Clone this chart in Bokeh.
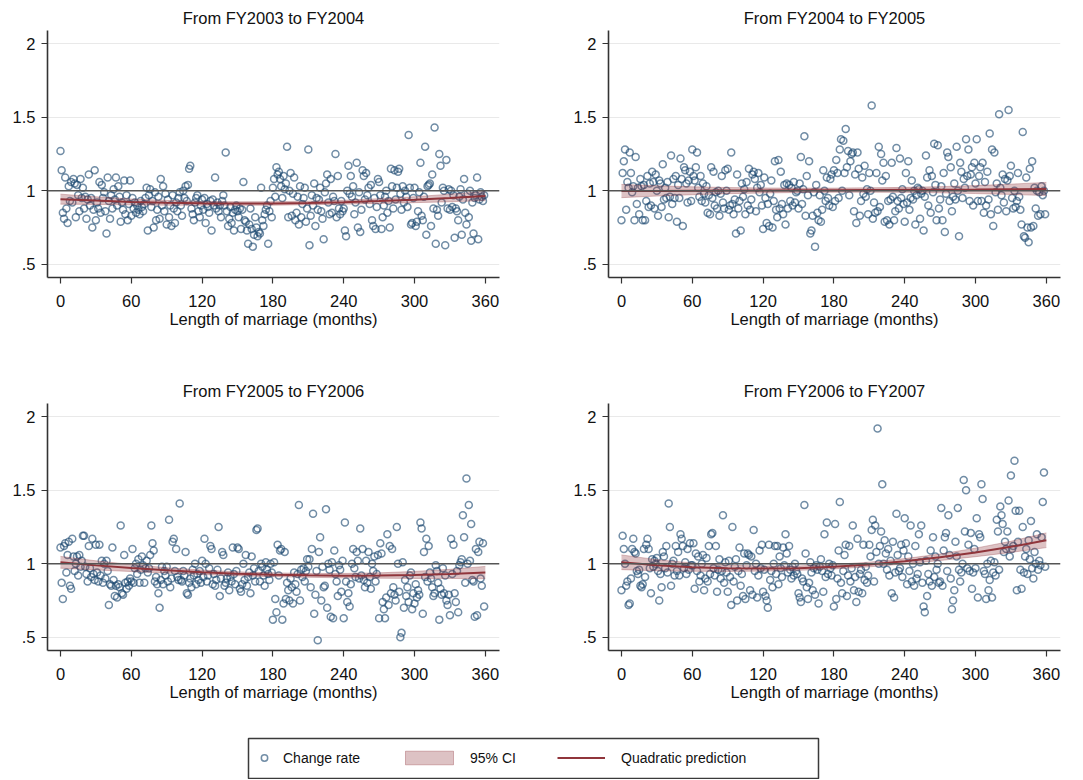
from bokeh.plotting import figure
from bokeh.layouts import row, column
from bokeh.models import Range1d, FixedTicker, Span, Legend, LegendItem, Spacer
from bokeh.embed import file_html
from bokeh.resources import INLINE

# ---------------- data ----------------
months = list(range(0, 360))

rate_fy03_04 = [
    1.27,1.14,0.85,0.81,1.09,0.88,0.78,1.03,0.93,1.06,0.92,1.08,1.05,0.82,1.04,0.97,0.86,1.08,0.95,1.02,0.88,0.96,0.81,0.94,1.11,0.90,0.95,0.75,0.87,1.14,
    0.80,0.92,0.88,1.06,0.85,1.04,0.95,0.99,0.86,0.71,1.09,0.93,0.81,0.97,0.88,1.01,0.94,1.09,0.90,1.03,0.96,0.79,0.92,0.87,1.07,0.84,0.97,0.80,0.91,1.07,
    0.83,0.95,0.88,0.92,0.85,0.90,0.87,0.84,0.93,0.89,0.86,0.91,0.95,1.02,0.73,0.97,1.01,0.89,0.93,0.75,0.99,0.80,0.87,0.96,0.81,1.08,0.90,1.03,0.86,0.98,
    0.77,0.94,0.82,0.90,0.76,0.97,0.88,0.78,0.92,0.86,0.95,0.99,0.90,0.83,1.00,0.95,1.03,0.93,1.04,1.15,1.17,0.88,0.84,0.80,0.92,0.95,0.97,0.86,0.82,0.90,
    0.94,0.87,0.95,0.78,0.91,0.89,0.85,0.93,0.73,0.94,0.90,1.09,0.88,0.92,0.86,0.90,0.82,0.93,0.97,0.90,1.26,0.86,0.76,0.81,0.89,0.78,0.85,0.73,0.87,0.90,
    0.86,0.82,0.88,0.74,0.87,1.06,0.80,0.79,0.73,0.64,0.77,0.88,0.74,0.62,0.70,0.82,0.75,0.69,0.72,0.71,1.02,0.80,0.76,0.84,0.87,0.90,0.64,0.86,0.93,0.82,
    1.02,1.08,0.96,1.16,1.11,1.13,1.08,1.03,0.95,1.10,1.01,1.05,1.30,0.82,1.00,1.12,0.83,0.98,1.09,0.80,0.85,0.96,0.77,1.03,0.82,0.91,0.95,1.02,0.79,0.88,
    1.28,0.63,0.83,0.97,0.90,1.05,0.76,0.95,0.87,0.94,1.02,0.86,0.81,0.67,0.99,1.05,1.11,0.92,0.84,1.08,0.85,0.96,0.93,1.25,0.82,1.10,0.88,0.84,0.93,0.86,
    0.88,0.73,0.69,1.00,1.17,0.98,1.10,0.96,1.03,0.84,0.92,1.19,0.75,0.99,0.72,0.87,1.14,1.10,0.94,1.12,0.97,1.02,0.91,1.04,0.80,0.76,0.95,0.74,0.89,1.08,
    1.06,0.97,0.74,0.82,0.90,0.96,1.00,0.85,0.93,0.75,1.15,1.03,0.88,1.14,0.94,1.02,1.13,1.15,0.98,0.87,1.03,0.92,1.00,0.96,0.89,1.38,1.02,0.77,0.78,0.95,
    1.02,0.76,0.79,0.86,0.99,1.19,0.83,0.80,0.96,1.30,0.70,1.03,1.04,1.05,0.76,1.11,0.88,1.43,0.64,0.87,0.83,1.25,1.17,0.92,1.02,1.00,0.63,1.21,0.88,1.01,
    0.87,1.00,0.89,0.97,0.68,0.88,0.86,0.80,0.96,1.01,0.70,0.94,1.08,0.85,0.77,0.98,0.82,1.00,0.66,0.92,0.71,0.95,0.97,1.09,0.67,0.94,0.99,0.96,0.93,0.97,
]

rate_fy04_05 = [
    0.80,1.12,1.20,1.28,0.87,1.06,1.02,1.26,1.12,0.99,1.03,0.80,1.23,0.91,1.02,0.84,1.08,1.03,0.80,1.04,0.80,0.93,1.10,0.89,1.05,0.90,1.13,1.06,0.88,1.11,
    1.00,0.83,1.07,1.05,0.89,1.18,0.94,1.02,0.95,1.06,0.82,0.96,1.24,0.91,1.08,0.95,1.10,0.79,1.04,0.95,1.22,1.08,0.76,1.16,1.14,1.05,0.92,1.07,1.13,0.93,
    1.28,1.10,1.07,1.16,1.26,1.02,0.96,1.10,0.93,1.05,0.98,0.92,1.03,0.85,0.97,0.84,1.16,0.95,1.13,0.90,0.99,0.88,1.00,0.83,0.98,1.10,0.92,0.88,1.14,1.00,
    1.15,0.87,0.90,1.26,0.91,0.84,0.94,0.71,1.11,0.88,0.93,0.73,1.05,0.96,1.01,0.84,1.06,0.90,1.15,0.87,0.94,1.11,1.13,1.08,0.86,1.02,1.12,0.99,1.04,0.90,
    0.74,1.09,0.95,0.78,0.91,0.76,0.98,1.07,0.75,0.93,1.20,0.87,0.82,1.21,0.88,1.13,0.91,0.84,1.04,0.77,1.05,0.88,1.04,0.93,1.02,0.90,1.06,0.92,0.99,1.00,
    0.88,1.05,1.23,0.91,1.01,1.37,0.83,1.10,0.97,1.20,0.71,0.73,0.83,0.99,0.62,1.04,0.85,0.80,0.97,0.79,0.87,1.14,1.00,0.93,1.09,0.95,0.90,1.08,1.11,0.89,
    1.14,0.93,1.21,1.12,0.95,1.28,1.35,1.00,1.34,1.12,1.42,1.16,1.27,0.97,1.20,1.25,1.26,0.86,1.11,0.78,1.26,1.15,0.83,0.93,1.09,0.98,1.17,0.96,1.01,0.84,
    1.12,1.00,1.58,0.81,0.92,0.85,1.12,0.86,1.30,0.89,1.25,1.07,1.19,0.79,1.10,0.80,0.93,0.77,0.94,1.19,0.96,0.80,0.86,1.29,0.93,0.88,1.22,0.95,1.01,0.91,
    0.79,1.12,0.92,1.20,0.87,0.95,1.07,0.94,1.00,0.77,0.97,1.02,1.01,0.81,0.98,1.00,0.73,0.96,1.24,1.09,0.90,1.14,0.85,1.10,0.99,1.32,1.04,0.80,1.31,0.88,
    0.94,1.03,0.80,1.12,0.72,0.98,1.26,1.23,0.93,1.16,0.86,0.96,1.05,0.94,1.30,1.00,0.69,1.19,1.13,0.95,1.08,1.02,1.35,1.10,1.28,0.93,1.11,1.16,0.90,1.19,
    1.05,1.35,0.93,1.10,1.16,0.93,1.19,0.85,1.06,0.90,1.13,0.94,1.39,0.84,1.28,0.76,1.26,0.99,1.05,0.87,1.52,1.02,0.97,1.11,0.92,1.08,0.86,1.07,1.55,1.10,
    1.17,0.95,0.88,1.00,0.89,0.93,1.12,0.96,0.87,0.77,1.40,0.69,0.68,1.09,0.75,0.65,1.15,0.75,1.20,0.76,1.02,0.88,1.00,0.83,0.99,0.84,1.03,0.97,1.00,0.84,
]

rate_fy05_06 = [
    1.11,0.87,0.76,1.12,1.14,0.94,1.06,1.15,0.85,0.83,1.17,1.05,0.95,1.00,1.05,0.92,1.06,0.98,1.02,1.19,1.19,0.98,0.93,0.88,1.12,0.97,0.91,1.17,0.93,0.89,
    1.13,0.94,0.88,1.13,0.92,1.02,0.87,1.00,0.90,1.02,0.95,0.72,0.86,0.85,1.11,0.89,0.78,0.85,0.77,0.86,0.84,1.26,0.80,0.79,1.06,0.87,0.83,0.88,0.85,0.90,
    0.88,1.10,0.87,0.97,1.00,0.93,1.03,0.87,0.96,1.05,0.99,0.87,0.97,1.02,0.94,0.97,1.06,1.26,1.14,1.09,0.88,0.91,0.86,0.80,0.70,0.89,0.98,0.86,0.95,0.92,
    0.98,0.88,1.30,0.84,0.90,1.15,1.17,0.95,1.10,0.91,0.89,1.41,0.89,0.88,0.95,0.92,1.08,0.80,0.79,0.87,0.90,0.84,0.96,0.92,1.00,0.86,0.93,0.89,0.95,0.87,
    1.02,0.91,1.17,1.00,0.88,0.92,0.97,1.12,1.10,0.86,0.93,0.85,0.89,0.96,1.25,0.78,0.90,1.08,1.06,0.85,0.87,0.90,0.94,0.82,0.91,0.88,1.11,0.93,0.86,0.95,
    1.11,1.10,0.83,0.81,0.86,1.00,0.89,1.06,0.85,0.91,0.94,0.80,1.05,0.92,0.97,0.88,1.23,1.24,0.95,0.88,1.00,0.98,0.92,0.85,1.01,0.96,0.93,0.89,1.00,0.94,
    0.62,1.01,0.76,0.67,1.13,0.92,1.09,1.10,0.62,0.73,1.08,0.76,0.87,0.82,0.75,0.90,0.84,0.73,0.94,0.86,0.81,0.93,1.40,0.75,0.96,0.91,0.97,0.88,0.95,1.03,
    0.98,1.03,0.84,1.10,1.34,0.66,0.79,0.95,0.48,1.08,1.18,0.75,0.98,0.84,0.85,1.37,0.70,1.00,0.96,0.64,1.01,0.63,1.09,0.93,0.88,0.78,0.99,0.96,0.81,1.02,
    0.63,1.28,0.88,0.74,0.80,0.71,0.86,1.00,1.10,0.97,0.91,1.08,1.02,0.90,1.24,0.92,1.10,0.89,0.84,1.02,0.87,1.08,0.91,0.83,1.00,0.95,1.05,0.88,0.93,1.06,
    0.63,1.14,1.07,0.74,0.69,0.63,0.77,1.20,0.72,1.12,0.80,1.10,0.84,0.79,0.75,1.25,1.00,0.81,0.50,0.53,1.01,0.70,0.89,0.78,0.84,0.74,0.92,0.94,0.69,0.80,
    0.73,0.86,0.77,0.82,0.79,1.28,1.24,0.66,1.08,0.91,1.17,0.88,1.12,0.94,0.90,0.84,0.78,0.80,0.99,0.95,0.87,0.62,0.83,0.79,0.97,0.80,0.92,0.75,0.72,0.79,
    0.65,1.17,0.93,1.13,0.80,0.74,0.95,0.67,0.99,1.01,1.03,1.33,1.18,0.87,1.58,1.00,1.40,1.02,1.27,0.89,0.88,0.64,1.10,0.65,1.08,1.15,0.90,0.85,1.14,0.71,
]

rate_fy06_07 = [
    0.82,1.19,1.10,1.00,0.85,0.88,0.72,0.73,0.90,1.10,1.17,1.08,1.07,0.95,0.93,0.96,0.85,0.84,0.86,1.10,0.91,1.13,1.17,1.10,0.97,0.80,1.03,0.98,1.02,1.00,
    1.04,0.95,0.75,0.93,0.84,1.08,1.05,0.97,1.12,0.94,1.41,1.25,0.85,1.00,1.02,0.92,1.12,0.95,1.08,0.92,1.20,1.17,1.12,0.97,1.01,0.93,1.10,0.96,1.14,0.99,
    0.99,1.14,0.83,1.07,0.95,1.05,0.88,0.92,1.00,1.06,0.82,0.90,1.04,0.88,1.12,0.93,1.20,1.21,0.97,0.92,1.12,0.81,0.96,1.03,0.90,0.95,1.33,0.87,1.01,0.94,
    0.81,1.02,0.91,0.72,1.25,0.88,0.98,1.03,0.75,0.95,1.11,0.85,0.93,0.78,1.07,0.76,0.99,1.07,1.06,0.82,1.05,0.79,1.23,0.95,1.00,0.77,0.92,1.09,0.97,1.13,
    0.81,0.96,0.78,0.75,0.70,1.13,0.89,0.95,0.84,1.00,1.12,0.93,1.12,0.86,1.05,0.97,0.91,1.11,0.99,1.20,1.07,0.94,1.12,0.96,0.90,0.98,0.92,1.00,0.95,0.93,
    0.80,0.77,0.74,0.90,0.88,1.40,1.07,0.84,0.76,0.87,1.01,0.94,0.82,0.97,0.79,0.99,0.96,0.73,0.98,1.03,0.95,0.81,1.20,0.91,1.28,0.93,1.00,0.97,0.92,0.99,
    0.71,1.27,0.76,0.90,1.09,1.42,0.87,0.80,0.95,1.06,1.13,0.78,0.92,1.12,0.88,0.97,1.26,0.82,0.91,0.74,1.17,0.81,0.93,0.96,0.80,1.13,0.89,0.98,0.87,0.92,
    1.13,1.05,1.23,1.30,0.88,1.26,1.08,1.92,1.00,1.12,1.22,1.54,1.00,1.16,1.07,0.96,1.10,0.92,1.02,0.80,1.15,0.77,0.94,1.34,1.06,0.95,0.97,1.13,0.91,1.09,
    1.31,1.14,0.86,1.05,0.95,1.26,0.88,1.00,0.85,1.12,0.90,0.93,1.20,1.01,1.26,0.87,0.71,0.67,1.02,0.78,0.93,0.88,1.09,0.85,1.18,0.91,1.05,0.96,1.00,0.87,
    0.88,1.38,0.85,1.09,1.18,1.21,0.95,1.33,1.06,0.90,0.69,0.75,0.82,1.15,1.05,1.38,0.96,0.88,0.94,1.00,1.57,1.22,1.50,0.97,1.13,0.95,1.21,0.83,0.94,1.10,
    0.97,1.31,0.77,1.20,1.18,1.54,1.44,0.95,0.93,0.76,1.00,0.82,0.89,1.02,0.77,0.94,1.01,0.92,1.30,1.22,0.96,1.39,1.33,1.27,1.08,1.15,1.10,1.22,1.43,1.05,
    1.60,1.10,1.12,1.70,1.36,0.82,1.15,1.36,0.96,0.83,1.25,0.94,1.05,1.10,0.93,1.16,1.03,1.29,0.97,0.90,1.08,1.00,1.20,0.96,1.02,0.99,1.18,1.42,1.62,0.98,
]

fit_months = [0, 30, 60, 90, 120, 150, 180, 210, 240, 270, 300, 330, 360]
fit_fy03_04 = [0.943,0.933,0.924,0.918,0.915,0.913,0.914,0.917,0.922,0.930,0.939,0.951,0.965]
half_fy03_04 = [0.034,0.026,0.020,0.016,0.013,0.012,0.012,0.012,0.013,0.016,0.020,0.026,0.032]
fit_fy04_05 = [0.998,0.999,1.000,1.001,1.002,1.003,1.004,1.005,1.006,1.007,1.008,1.010,1.012]
half_fy04_05 = [0.045,0.035,0.027,0.021,0.017,0.015,0.014,0.015,0.017,0.021,0.027,0.035,0.045]
fit_fy05_06 = [1.010,0.989,0.971,0.955,0.942,0.932,0.925,0.921,0.919,0.920,0.924,0.931,0.940]
half_fy05_06 = [0.040,0.031,0.024,0.018,0.015,0.013,0.013,0.013,0.015,0.018,0.024,0.031,0.042]
fit_fy06_07 = [1.010,0.990,0.977,0.969,0.967,0.970,0.980,0.995,1.017,1.044,1.077,1.115,1.160]
half_fy06_07 = [0.050,0.038,0.028,0.021,0.017,0.015,0.015,0.016,0.018,0.022,0.029,0.038,0.050]

x_ticks = [0, 60, 120, 180, 240, 300, 360]
y_ticks = [0.5, 1, 1.5, 2]
y_tick_labels = {0.5: ".5", 1: "1", 1.5: "1.5", 2: "2"}

# ---------------- styling ----------------
FONT = "Liberation Sans"
NAVY = "#1a476f"
MAROON = "#90353b"
AXIS = "#333333"


def panel(title, rates, fit, half, width, height, bl, br, bt, bb):
    p = figure(width=width, height=height,
               x_range=Range1d(-11, 372), y_range=Range1d(0.41, 2.09),
               output_backend="svg", toolbar_location=None,
               min_border_left=bl, min_border_right=br,
               min_border_top=bt, min_border_bottom=bb,
               outline_line_color=None, background_fill_color="white",
               border_fill_color="white")
    p.title.text = title
    p.title.align = "center"
    p.title.text_font = FONT
    p.title.text_font_size = "16.5px"
    p.title.text_font_style = "normal"
    p.title.text_color = "#111111"
    p.title.standoff = 8

    p.xgrid.visible = False
    p.ygrid.grid_line_color = "#e9e9e9"
    p.ygrid.grid_line_width = 1.2

    p.xaxis.ticker = FixedTicker(ticks=x_ticks)
    p.yaxis.ticker = FixedTicker(ticks=y_ticks)
    p.yaxis.major_label_overrides = y_tick_labels
    p.xaxis.axis_label = "Length of marriage (months)"
    for ax in (p.xaxis, p.yaxis):
        ax.axis_line_color = AXIS
        ax.axis_line_width = 1.6
        ax.major_tick_line_color = AXIS
        ax.major_tick_line_width = 1.2
        ax.major_tick_out = 6
        ax.major_tick_in = 0
        ax.minor_tick_line_color = None
        ax.major_label_text_font = FONT
        ax.major_label_text_font_size = "16.5px"
        ax.major_label_text_color = "#111111"
        ax.axis_label_text_font = FONT
        ax.axis_label_text_font_size = "16.5px"
        ax.axis_label_text_font_style = "normal"
        ax.axis_label_text_color = "#111111"
    p.xaxis.major_label_standoff = 11
    p.xaxis.axis_label_standoff = 0
    p.yaxis.major_label_standoff = 6

    p.add_layout(Span(location=1, dimension="width", line_color="#555555", line_width=1.6))

    p.scatter(months, rates, marker="circle", size=7, fill_color=None,
              line_color=NAVY, line_alpha=0.62, line_width=1.5)
    lower = [f - h for f, h in zip(fit, half)]
    upper = [f + h for f, h in zip(fit, half)]
    p.varea(x=fit_months, y1=lower, y2=upper, fill_color=MAROON, fill_alpha=0.3)
    p.line(fit_months, upper, line_color=MAROON, line_alpha=0.3, line_width=1)
    p.line(fit_months, lower, line_color=MAROON, line_alpha=0.3, line_width=1)
    p.line(fit_months, fit, line_color=MAROON, line_width=2)
    return p


p1 = panel("From FY2003 to FY2004", rate_fy03_04, fit_fy03_04, half_fy03_04, 540, 370, 47, 41, 30, 93)
p2 = panel("From FY2004 to FY2005", rate_fy04_05, fit_fy04_05, half_fy04_05, 543, 370, 68, 23, 30, 93)
p3 = panel("From FY2005 to FY2006", rate_fy05_06, fit_fy05_06, half_fy05_06, 540, 366, 47, 41, 33, 86)
p4 = panel("From FY2006 to FY2007", rate_fy06_07, fit_fy06_07, half_fy06_07, 543, 366, 68, 23, 33, 86)

# ---------------- legend ----------------
leg = figure(width=574, height=43, x_range=Range1d(0, 1), y_range=Range1d(0, 1),
             output_backend="svg", toolbar_location=None,
             min_border_left=2, min_border_right=2, min_border_top=2, min_border_bottom=1,
             x_axis_location=None, y_axis_location=None,
             outline_line_color="#3a3a3a", outline_line_width=1.5)
leg.grid.visible = False
# legend-only renderers: their single sample lies outside the visible range
r_pts = leg.scatter(x=[5], y=[5], marker="circle", size=7, fill_color=None,
                    line_color=NAVY, line_alpha=0.62, line_width=1.5)
r_ci = leg.quad(left=[5], right=[6], top=[6], bottom=[5], fill_color=MAROON, fill_alpha=0.3,
                line_color=MAROON, line_alpha=0.35)
r_ln = leg.line(x=[5, 6], y=[5, 5], line_color=MAROON, line_width=2)


def make_legend(label, rend, loc, gw, standoff):
    return Legend(items=[LegendItem(label=label, renderers=[rend])], location=loc,
                  orientation="horizontal", glyph_width=gw, glyph_height=17,
                  label_height=17, label_standoff=standoff, padding=0, margin=0,
                  spacing=0, border_line_color=None, background_fill_alpha=0,
                  label_text_font=FONT, label_text_font_size="14px",
                  label_text_color="#111111")


leg.add_layout(make_legend("Change rate", r_pts, (8, 12), 16, 11))
leg.add_layout(make_legend("95% CI", r_ci, (151, 12), 60, 11))
leg.add_layout(make_legend("Quadratic prediction", r_ln, (309, 12), 48, 16))

layout = column(
    row(p1, p2),
    row(p3, p4),
    row(Spacer(width=246, height=43), leg),
)

open("out.html", "w").write(file_html(layout, INLINE))
